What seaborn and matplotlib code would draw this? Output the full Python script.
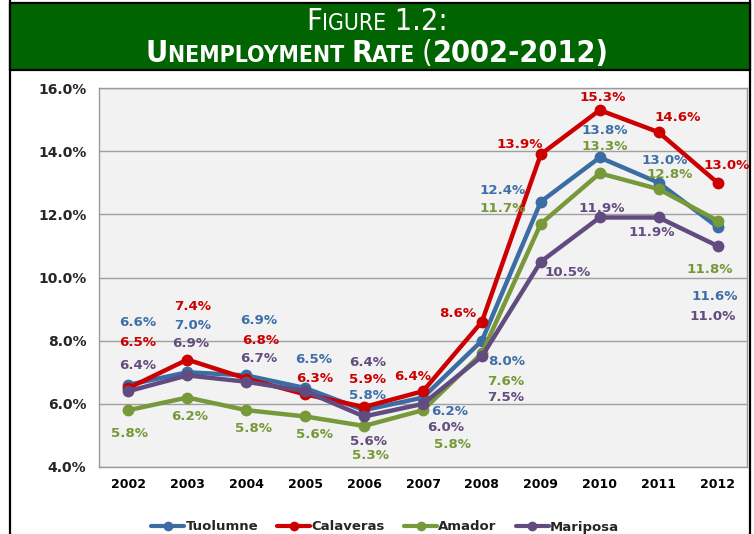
import matplotlib
matplotlib.use("Agg")
import matplotlib.pyplot as plt
from matplotlib.lines import Line2D
from matplotlib.patches import Rectangle
from matplotlib.offsetbox import TextArea, HPacker, AnchoredOffsetbox
import seaborn as sns
import pandas as pd

# ---------------- data ----------------
years = [2002, 2003, 2004, 2005, 2006, 2007, 2008, 2009, 2010, 2011, 2012]
counties = ["Tuolumne", "Calaveras", "Amador", "Mariposa"]
tuolumne = [6.6, 7.0, 6.9, 6.5, 5.8, 6.2, 8.0, 12.4, 13.8, 13.0, 11.6]
calaveras = [6.5, 7.4, 6.8, 6.3, 5.9, 6.4, 8.6, 13.9, 15.3, 14.6, 13.0]
amador = [5.8, 6.2, 5.8, 5.6, 5.3, 5.8, 7.6, 11.7, 13.3, 12.8, 11.8]
mariposa = [6.4, 6.9, 6.7, 6.4, 5.6, 6.0, 7.5, 10.5, 11.9, 11.9, 11.0]
y_ticks = [4, 6, 8, 10, 12, 14, 16]

series = {"Tuolumne": tuolumne, "Calaveras": calaveras,
          "Amador": amador, "Mariposa": mariposa}

# ---------------- styles ----------------
line_colors = {"Tuolumne": "#3C6CA4", "Calaveras": "#CC0000",
               "Amador": "#77993A", "Mariposa": "#614B80"}
label_colors = {"Tuolumne": "#3F6FA6", "Calaveras": "#CC0000",
                "Amador": "#779838", "Mariposa": "#634D80"}
# label offsets in screen pixels (dx, dy down-positive)
offsets = {
    "Tuolumne": [(9, -62), (5, -47), (12, -55), (8, -29), (3, -15), (27, 14),
                 (25, 21), (-38, -11), (5, -27), (6, -22), (-3, 70)],
    "Calaveras": [(9, -46), (5, -53), (14, -38), (10, -16), (3, -27), (-10, -15),
                  (-24, -8), (-21, -10), (3, -13), (19, -15), (9, -17)],
    "Amador": [(1, 23), (2, 19), (7, 18), (9, 18), (6, 30), (29, 34),
               (24, 28), (-38, -15), (5, -27), (11, -15), (-8, 49)],
    "Mariposa": [(9, -26), (3, -32), (12, -23), (62, -29), (4, 25), (23, 24),
                 (24, 41), (27, 11), (2, -9), (-7, 15), (-5, 71)],
}

df = pd.DataFrame([
    {"Year": y, "Rate": v, "County": c}
    for c in counties for y, v in zip(years, series[c])
])

sns.set_theme(style="white")
plt.rcParams["font.family"] = ["DejaVu Sans"]

fig = plt.figure(figsize=(7.54, 5.34), dpi=100)
fig.patch.set_facecolor("white")

# outer frame and title band
fig.add_artist(Rectangle((10 / 754, -0.01), 740 / 754, 1.02, transform=fig.transFigure,
                         facecolor="none", edgecolor="black", lw=1.6, zorder=0))
fig.add_artist(Rectangle((10 / 754, 1 - 70 / 534), 740 / 754, 67 / 534,
                         transform=fig.transFigure, facecolor="#006400",
                         edgecolor="black", lw=1.6, zorder=1))

ax = fig.add_axes([99 / 754, 1 - 467 / 534, 648 / 754, 379 / 534])
ax.set_facecolor("#F2F2F2")

sns.lineplot(data=df, x="Year", y="Rate", hue="County", hue_order=counties,
             palette=line_colors, marker="o", markersize=8.5, markeredgewidth=0,
             linewidth=3.2, ax=ax, legend=False, zorder=3)

for c in counties:
    for y, v, (dx, dy) in zip(years, series[c], offsets[c]):
        ax.annotate(f"{v:.1f}%", (y, v), xytext=(dx, -dy), textcoords="offset pixels",
                    ha="center", va="center", fontsize=9.6, fontweight="bold",
                    color=label_colors[c], zorder=5)

ax.set_xlim(2001.5, 2012.5)
ax.set_ylim(4, 16)
ax.set_xticks(years)
ax.set_xticklabels([str(y) for y in years], fontsize=9, fontweight="bold")
ax.set_xticks([y + 0.5 for y in years[:-1]], minor=True)
ax.set_yticks(y_ticks)
ax.set_yticklabels([f"{t:.1f}%" for t in y_ticks], fontsize=10, fontweight="bold")
ax.tick_params(axis="x", which="major", length=0, pad=8, colors="black")
ax.tick_params(axis="x", which="minor", length=5, color="#888888", direction="out")
ax.tick_params(axis="y", length=5, color="#888888", direction="out", pad=4)
ax.yaxis.grid(True, color="#A0A0A0", lw=1)
ax.xaxis.grid(False)
ax.set_xlabel("")
ax.set_ylabel("")
for s in ax.spines.values():
    s.set_color("#9A9A9A")
    s.set_linewidth(1)

# legend
handles = [Line2D([], [], color=line_colors[c], lw=3, marker="o", markersize=7,
                  markeredgewidth=0) for c in counties]
fig.legend(handles, counties, loc="center", bbox_to_anchor=(0.511, 1 - 527 / 534),
           ncol=4, frameon=False, prop={"weight": "bold", "size": 9.5},
           handlelength=2.5, handletextpad=0.1, columnspacing=1.45)

# title with small caps
def sc(parts, y):
    kids = []
    for txt, size, weight in parts:
        kids.append(TextArea(txt, textprops=dict(color="white", fontsize=size,
                                                 fontweight=weight,
                                                 fontstretch="condensed")))
    box = HPacker(children=kids, align="baseline", pad=0, sep=0)
    anch = AnchoredOffsetbox(loc="center", child=box, pad=0, frameon=False,
                             bbox_to_anchor=(0.5, y), bbox_transform=fig.transFigure,
                             borderpad=0)
    fig.add_artist(anch)

sc([("F", 22, "normal"), ("IGURE", 16.5, "normal"), (" 1.2:", 22, "normal")],
   1 - 22 / 534)
sc([("U", 22, "bold"), ("NEMPLOYMENT ", 16.5, "bold"), ("R", 22, "bold"),
    ("ATE ", 16.5, "bold"), ("(", 22, "normal"), ("2002-2012)", 22, "bold")],
   1 - 54 / 534)

fig.savefig("out.png", dpi=100, facecolor="white")
